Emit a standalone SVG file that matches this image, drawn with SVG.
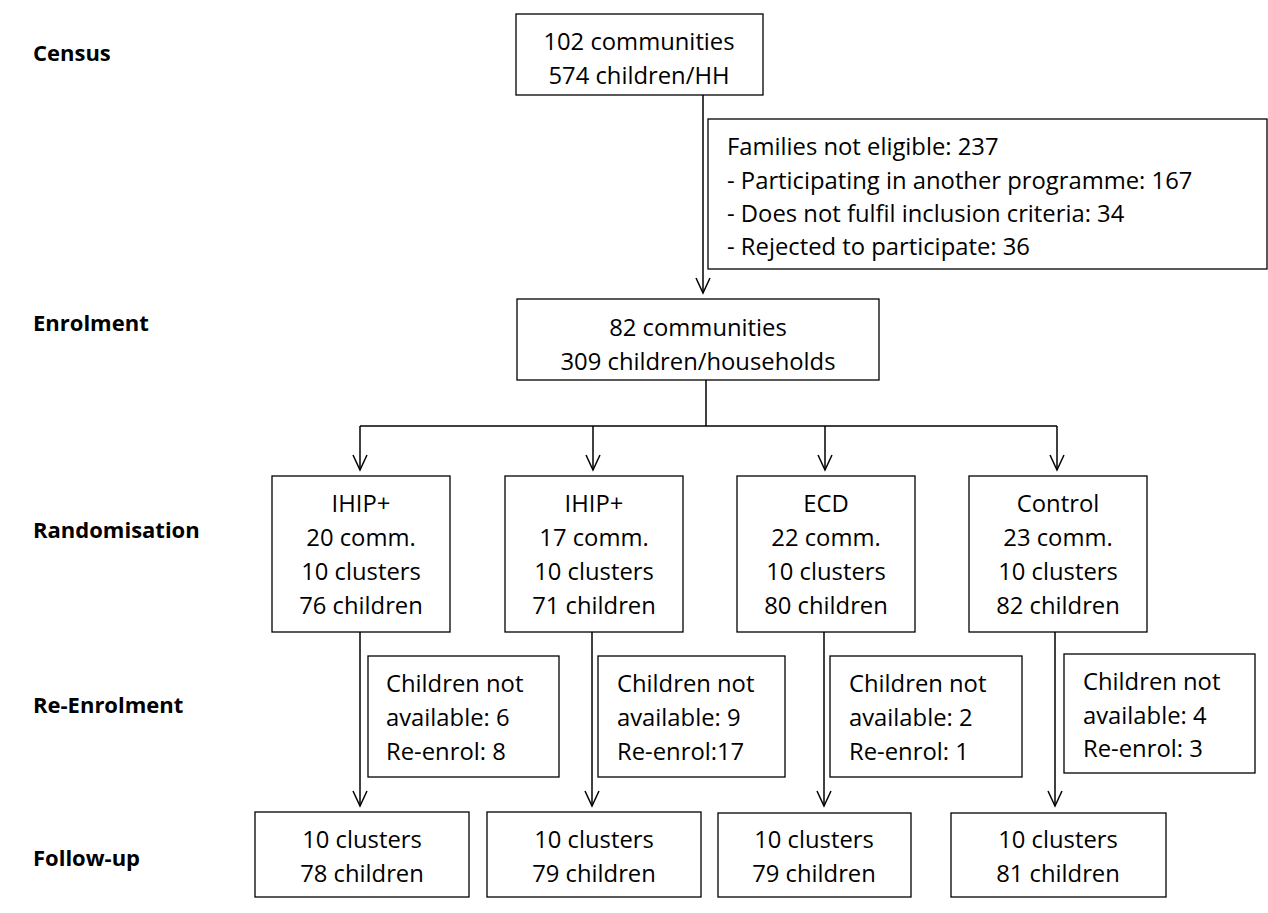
<svg xmlns="http://www.w3.org/2000/svg" width="1268" height="913" viewBox="0 0 1268 913">
<defs>
<style>
.box{fill:#fff;stroke:#000;stroke-width:1.3}
.t{font-family:"Open Sans","Liberation Sans",sans-serif;font-size:23.8px;fill:#000}
.c{text-anchor:middle}
.lbl{font-family:"Open Sans","Liberation Sans",sans-serif;font-size:22px;font-weight:bold;fill:#000}
.ln{fill:none;stroke:#000;stroke-width:1.5}
</style>
<marker id="ah" markerUnits="userSpaceOnUse" markerWidth="20" markerHeight="20" refX="0" refY="0" orient="auto" overflow="visible">
<path d="M-15,-7 L0,0 L-15,7" fill="none" stroke="#000" stroke-width="1.5"/>
</marker>
</defs>
<rect width="1268" height="913" fill="#fff"/>

<g id="stage-labels">
<text class="lbl" x="33" y="61">Census</text>
<text class="lbl" x="33" y="331">Enrolment</text>
<text class="lbl" x="33" y="538">Randomisation</text>
<text class="lbl" x="33" y="713">Re-Enrolment</text>
<text class="lbl" x="33" y="866">Follow-up</text>
</g>

<g id="connectors">
<line class="ln" x1="703" y1="95" x2="703" y2="293" marker-end="url(#ah)"/>
<polyline class="ln" points="706,380 706,426"/>
<line class="ln" x1="360" y1="426" x2="1057" y2="426"/>
<line class="ln" x1="360" y1="426" x2="360" y2="470" marker-end="url(#ah)"/>
<line class="ln" x1="593" y1="426" x2="593" y2="470" marker-end="url(#ah)"/>
<line class="ln" x1="825" y1="426" x2="825" y2="470" marker-end="url(#ah)"/>
<line class="ln" x1="1057" y1="426" x2="1057" y2="470" marker-end="url(#ah)"/>
<line class="ln" x1="360" y1="632" x2="360" y2="806" marker-end="url(#ah)"/>
<line class="ln" x1="592" y1="632" x2="592" y2="806" marker-end="url(#ah)"/>
<line class="ln" x1="824" y1="632" x2="824" y2="806" marker-end="url(#ah)"/>
<line class="ln" x1="1055" y1="632" x2="1055" y2="806" marker-end="url(#ah)"/>
</g>

<g id="census">
<rect class="box" x="516" y="14" width="247" height="81"/>
<text class="t c" x="639" y="50">102 communities</text>
<text class="t c" x="639" y="84">574 children/HH</text>
</g>

<g id="exclusion">
<rect class="box" x="708" y="119" width="559" height="150"/>
<text class="t" x="727" y="155">Families not eligible: 237</text>
<text class="t" x="727" y="189">- Participating in another programme: 167</text>
<text class="t" x="727" y="222">- Does not fulfil inclusion criteria: 34</text>
<text class="t" x="727" y="255">- Rejected to participate: 36</text>
</g>

<g id="enrolment">
<rect class="box" x="517" y="299" width="362" height="81"/>
<text class="t c" x="698" y="336">82 communities</text>
<text class="t c" x="698" y="370">309 children/households</text>
</g>

<g id="rand-ihip1">
<rect class="box" x="272" y="476" width="178" height="156"/>
<text class="t c" x="361" y="512">IHIP+</text>
<text class="t c" x="361" y="546">20 comm.</text>
<text class="t c" x="361" y="580">10 clusters</text>
<text class="t c" x="361" y="614">76 children</text>
</g>
<g id="rand-ihip2">
<rect class="box" x="505" y="476" width="178" height="156"/>
<text class="t c" x="594" y="512">IHIP+</text>
<text class="t c" x="594" y="546">17 comm.</text>
<text class="t c" x="594" y="580">10 clusters</text>
<text class="t c" x="594" y="614">71 children</text>
</g>
<g id="rand-ecd">
<rect class="box" x="737" y="476" width="178" height="156"/>
<text class="t c" x="826" y="512">ECD</text>
<text class="t c" x="826" y="546">22 comm.</text>
<text class="t c" x="826" y="580">10 clusters</text>
<text class="t c" x="826" y="614">80 children</text>
</g>
<g id="rand-control">
<rect class="box" x="969" y="476" width="178" height="156"/>
<text class="t c" x="1058" y="512">Control</text>
<text class="t c" x="1058" y="546">23 comm.</text>
<text class="t c" x="1058" y="580">10 clusters</text>
<text class="t c" x="1058" y="614">82 children</text>
</g>

<g id="reenrol-1">
<rect class="box" x="368" y="656" width="191" height="121"/>
<text class="t" x="386" y="692">Children not</text>
<text class="t" x="386" y="726">available: 6</text>
<text class="t" x="386" y="760">Re-enrol: 8</text>
</g>
<g id="reenrol-2">
<rect class="box" x="598" y="656" width="187" height="121"/>
<text class="t" x="617" y="692">Children not</text>
<text class="t" x="617" y="726">available: 9</text>
<text class="t" x="617" y="760">Re-enrol:17</text>
</g>
<g id="reenrol-3">
<rect class="box" x="830" y="656" width="192" height="121"/>
<text class="t" x="849" y="692">Children not</text>
<text class="t" x="849" y="726">available: 2</text>
<text class="t" x="849" y="760">Re-enrol: 1</text>
</g>
<g id="reenrol-4">
<rect class="box" x="1064" y="654" width="191" height="119"/>
<text class="t" x="1083" y="690">Children not</text>
<text class="t" x="1083" y="724">available: 4</text>
<text class="t" x="1083" y="757">Re-enrol: 3</text>
</g>

<g id="followup-1">
<rect class="box" x="255" y="812" width="214" height="85"/>
<text class="t c" x="362" y="848">10 clusters</text>
<text class="t c" x="362" y="882">78 children</text>
</g>
<g id="followup-2">
<rect class="box" x="487" y="812" width="214" height="85"/>
<text class="t c" x="594" y="848">10 clusters</text>
<text class="t c" x="594" y="882">79 children</text>
</g>
<g id="followup-3">
<rect class="box" x="718" y="813" width="193" height="84"/>
<text class="t c" x="814" y="848">10 clusters</text>
<text class="t c" x="814" y="882">79 children</text>
</g>
<g id="followup-4">
<rect class="box" x="951" y="813" width="215" height="84"/>
<text class="t c" x="1058" y="848">10 clusters</text>
<text class="t c" x="1058" y="882">81 children</text>
</g>
</svg>
